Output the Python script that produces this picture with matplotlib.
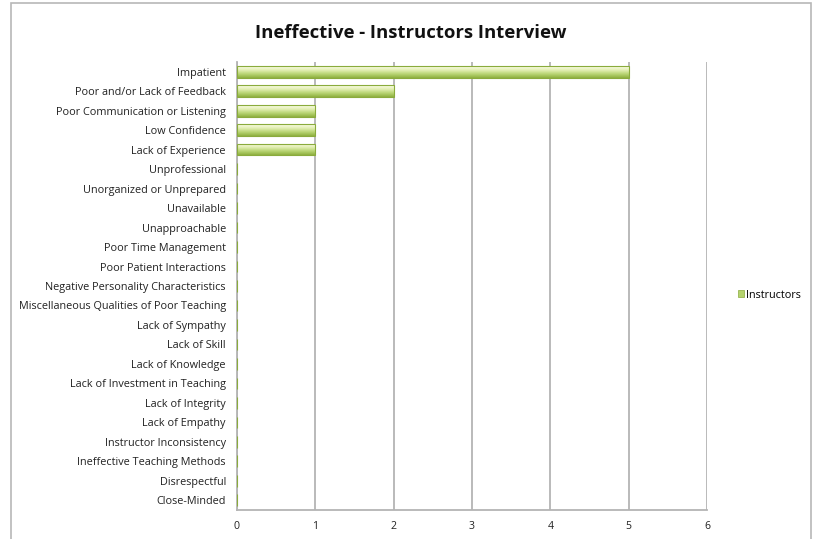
import matplotlib.pyplot as plt
import matplotlib.patches as mpatches
from matplotlib.colors import LinearSegmentedColormap
import numpy as np

# categories top to bottom, and the counts for each
categories = ['Impatient', 'Poor and/or Lack of Feedback', 'Poor Communication or Listening',
              'Low Confidence', 'Lack of Experience', 'Unprofessional',
              'Unorganized or Unprepared', 'Unavailable', 'Unapproachable',
              'Poor Time Management', 'Poor Patient Interactions',
              'Negative Personality Characteristics',
              'Miscellaneous Qualities of Poor Teaching', 'Lack of Sympathy',
              'Lack of Skill', 'Lack of Knowledge', 'Lack of Investment in Teaching',
              'Lack of Integrity', 'Lack of Empathy', 'Instructor Inconsistency',
              'Ineffective Teaching Methods', 'Disrespectful', 'Close-Minded']
instructors = [5, 2, 1, 1, 1, 0, 0, 0, 0, 0, 0, 0, 0, 0, 0, 0, 0, 0, 0, 0, 0, 0, 0]
xticks = [0, 1, 2, 3, 4, 5, 6]

plt.rcParams['font.family'] = ['Open Sans', 'DejaVu Sans']

fig = plt.figure(figsize=(8.14, 5.39), dpi=100)
ax = fig.add_axes([237 / 814, 1 - 510 / 539, 470 / 814, 448 / 539])

# outer chart frame
fig.patches.append(mpatches.Rectangle((11 / 814, -0.01), 800 / 814, 1 - 3 / 539 + 0.01,
                                      transform=fig.transFigure, fill=False,
                                      edgecolor='#b8b8b8', linewidth=1.2))

y = np.arange(len(categories))
bars = ax.barh(y, instructors, height=0.6, color='#c6dc8c', edgecolor='none',
               zorder=3, label='Instructors')

# gradient fill inside each bar: pale on top, darker green below
grad = np.linspace(0, 1, 64).reshape(-1, 1)
cmap = LinearSegmentedColormap.from_list('g', ['#fbfde8', '#e3efb4', '#b8d573', '#8fb040'])
for b, v in zip(bars, instructors):
    if v <= 0:
        continue
    x0, y0 = b.get_x(), b.get_y()
    im = ax.imshow(grad, cmap=cmap, aspect='auto', zorder=4, origin='upper',
                   extent=[x0, x0 + b.get_width(), y0 + b.get_height(), y0])
    im.set_clip_path(b)
# outlines on top of the gradient
ax.barh(y, instructors, height=0.6, color='none', edgecolor='#8aab3c',
        linewidth=0.8, zorder=5)

ax.set_xlim(0, 6)
ax.set_ylim(len(categories) - 0.5, -0.5)
ax.set_xticks(xticks)
ax.set_yticks(y)
ax.set_yticklabels(categories, fontsize=7.8, color='#222222')
ax.tick_params(axis='x', length=0, pad=8, labelsize=7.6, labelcolor='#222222')
ax.tick_params(axis='y', length=0, pad=8)
ax.grid(axis='x', color='#b4b4b4', linewidth=1.3, zorder=0)
for s in ['top', 'right']:
    ax.spines[s].set_visible(False)
for s in ['left', 'bottom']:
    ax.spines[s].set_color('#b4b4b4')
    ax.spines[s].set_linewidth(1.3)

fig.text(411 / 814, 1 - 33 / 539, 'Ineffective - Instructors Interview', ha='center',
         va='center', fontsize=13.3, fontweight='bold', color='#111111')

handle = mpatches.Patch(facecolor='#b5d36e', edgecolor='#8aab3c', linewidth=0.5)
fig.legend([handle], ['Instructors'], loc='center left',
           bbox_to_anchor=(728 / 814, 1 - 295 / 539), frameon=False, fontsize=7.8,
           handlelength=0.6, handleheight=0.6, handletextpad=0.2)

fig.savefig('out.png', dpi=100)
